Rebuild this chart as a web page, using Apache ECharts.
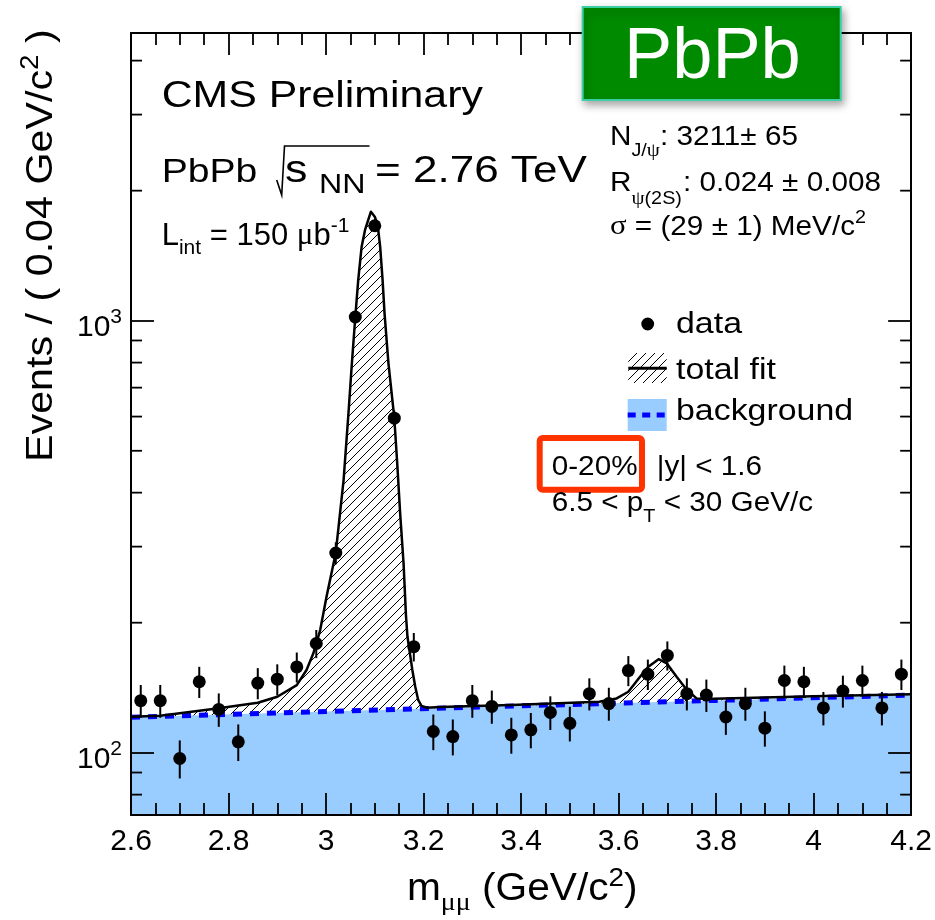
<!DOCTYPE html>
<html>
<head>
<meta charset="utf-8">
<script src="https://cdn.jsdelivr.net/npm/echarts@6/dist/echarts.min.js"></script>
<style>
  html, body { margin: 0; padding: 0; background: #fff; }
  #chart { width: 935px; height: 920px; }
</style>
</head>
<body>
<div id="chart"></div>
<script>
// ---- dimuon invariant-mass spectrum, 0.04 GeV/c^2 bins ----
const massBins = [2.62, 2.66, 2.70, 2.74, 2.78, 2.82, 2.86, 2.90, 2.94, 2.98,
                  3.02, 3.06, 3.10, 3.14, 3.18, 3.22, 3.26, 3.30, 3.34, 3.38,
                  3.42, 3.46, 3.50, 3.54, 3.58, 3.62, 3.66, 3.70, 3.74, 3.78,
                  3.82, 3.86, 3.90, 3.94, 3.98, 4.02, 4.06, 4.10, 4.14, 4.18];
const counts = [132, 132, 97, 146, 126, 106, 145, 148, 158, 179,
                290, 1020, 1659, 595, 176, 112, 109, 132, 128, 110,
                113, 124, 117, 137, 130, 155, 152, 168, 137, 136,
                121, 130, 114, 147, 146, 127, 139, 147, 127, 152];
const countErrors = [11.5, 11.5, 9.8, 12.1, 11.2, 10.3, 12.0, 12.2, 12.6, 13.4,
                     17.0, 31.9, 40.7, 24.4, 13.3, 10.6, 10.4, 11.5, 11.3, 10.5,
                     10.6, 11.1, 10.8, 11.7, 11.4, 12.4, 12.3, 13.0, 11.7, 11.7,
                     11.0, 11.4, 10.7, 12.1, 12.1, 11.3, 11.8, 12.1, 11.3, 12.3];

// total fit curve (signal + background)
const fitMass = [2.60, 2.66, 2.78, 2.86, 2.90, 2.94, 2.96, 2.974, 2.988, 3.001,
                 3.02, 3.036, 3.046, 3.053, 3.06, 3.066, 3.073, 3.08, 3.092, 3.10,
                 3.106, 3.111, 3.116, 3.12, 3.128, 3.14, 3.146, 3.152, 3.159, 3.164,
                 3.167, 3.172, 3.177, 3.183, 3.189, 3.196, 3.207, 3.234, 3.38, 3.56,
                 3.596, 3.62, 3.644, 3.661, 3.682, 3.699, 3.719, 3.74, 3.76, 3.795,
                 4.0, 4.2];
const fitCounts = [121.2, 121.8, 126.7, 130.5, 134.8, 143.4, 155.4, 169.9, 192.3, 229.7,
                   290.4, 427.8, 610.6, 796.9, 1020, 1242, 1484, 1622, 1788, 1741,
                   1659, 1484, 1242, 1040, 797, 595.5, 467.7, 358.3, 274.4, 207.2,
                   185.6, 169.9, 155.4, 142.2, 132.5, 128.3, 127.1, 127.6, 129.0, 131.3,
                   133.6, 138.4, 149.9, 158.1, 164.7, 161.0, 149.9, 139.7, 133.6, 133.3,
                   135.2, 136.6];

// background component of the fit
const bgMass = [2.6, 3.0, 3.4, 3.8, 4.2];
const bgCounts = [120.8, 124.6, 128.4, 132.2, 136.0];

// axis ranges and tick values
const X_MIN = 2.6, X_MAX = 4.2, X_STEP = 0.2;
const Y_MIN = 71.77, Y_MAX = 4634;
const yMinorTicks = [80, 90, 200, 300, 400, 500, 600, 700, 800, 900, 2000, 3000, 4000];

// ---- helpers ----
const SANS = '"Liberation Sans", Arial, Helvetica, sans-serif';
const SERIF = '"Liberation Serif", "Times New Roman", serif';
const MID = 0.35;   // canvas "middle" baseline sits this far (in em) above the alphabetic baseline
const measureCtx = document.createElement('canvas').getContext('2d');
function textWidth(t, fs, fam) {
  measureCtx.font = fs + 'px ' + fam;
  return measureCtx.measureText(t).width;
}
// a run of text pieces (for sub/superscripts) sharing one baseline
function textRun(x, y, sx, parts, opts) {
  opts = opts || {};
  const z = 100;
  let cx = 0;
  const children = parts.map(p => {
    const fam = p.serif ? SERIF : SANS;
    if (p.at != null) cx = (p.at - x) / sx;
    const el = {
      type: 'text', z: z, x: cx, y: (p.dy || 0) - MID * p.fs,
      style: { text: p.t, font: p.fs + 'px ' + fam, fill: opts.fill || '#000',
               align: 'left', verticalAlign: 'middle' }
    };
    cx += textWidth(p.t, p.fs, fam);
    return el;
  });
  return { type: 'group', z: z, x: x, y: y, scaleX: sx, rotation: opts.rotation || 0, children: children };
}
function hatchCanvas() {
  const s = 9;
  const c = document.createElement('canvas');
  c.width = s; c.height = s;
  const g = c.getContext('2d');
  g.strokeStyle = '#000';
  g.lineWidth = 1;
  g.beginPath();
  g.moveTo(0, s); g.lineTo(s, 0);
  g.moveTo(-1, 1); g.lineTo(1, -1);
  g.moveTo(s - 1, s + 1); g.lineTo(s + 1, s - 1);
  g.stroke();
  return c;
}
const hatchFill = { image: hatchCanvas(), repeat: 'repeat' };

const pts = (xs, ys) => xs.map((m, i) => [m, ys[i]]);
const dataPts = pts(massBins, counts);
const errPts = massBins.map((m, i) => [m, counts[i], countErrors[i]]);
const fitPts = pts(fitMass, fitCounts);
const bgPts = pts(bgMass, bgCounts);

const chart = echarts.init(document.getElementById('chart'), null, { renderer: 'canvas' });

const axisLineStyle = { lineStyle: { color: '#000', width: 2 } };
const tickStyle = { lineStyle: { color: '#000', width: 1.8 } };

function xAxisCfg(pos, labels) {
  return {
    type: 'value', position: pos, min: X_MIN, max: X_MAX, interval: X_STEP, z: 10,
    axisLine: Object.assign({ show: true, onZero: false }, axisLineStyle),
    axisTick: Object.assign({ show: true, inside: true, length: 22 }, tickStyle),
    minorTick: Object.assign({ show: true, splitNumber: 4, length: 12 }, tickStyle),
    splitLine: { show: false }, minorSplitLine: { show: false },
    axisLabel: { show: labels, margin: 12, color: '#000', fontSize: 30, fontFamily: SANS }
  };
}
function yAxisCfg(pos, labels) {
  return {
    type: 'log', logBase: 10, position: pos, min: Y_MIN, max: Y_MAX, z: 10,
    axisLine: Object.assign({ show: true, onZero: false }, axisLineStyle),
    axisTick: Object.assign({ show: true, inside: true, length: 23 }, tickStyle),
    splitLine: { show: false },
    axisLabel: {
      show: labels, margin: 9, padding: [8, 0, 0, 0],
      formatter: v => {
        const e = Math.round(Math.log10(v));
        if (Math.abs(Math.log10(v) - e) > 1e-6) return '';
        return '{b|10}{s|' + e + '}';
      },
      rich: {
        b: { fontSize: 30, fontFamily: SANS, color: '#000', lineHeight: 36, verticalAlign: 'bottom' },
        s: { fontSize: 21, fontFamily: SANS, color: '#000', lineHeight: 21, verticalAlign: 'top' }
      }
    }
  };
}

const graphics = [
  textRun(161.7, 109.3, 1.157, [{ t: 'CMS Preliminary', fs: 37 }]),
  textRun(161.7, 185, 1.15, [
    { t: 'PbPb', fs: 34 },
    { t: 's', fs: 39, at: 285 },
    { t: 'NN', fs: 28, at: 319, dy: 10 }
  ]),
  textRun(375, 185, 1.19, [{ t: '= 2.76 TeV', fs: 37 }]),
  { type: 'polyline', z: 100, shape: { points: [[276.7, 180], [281.7, 195], [284.5, 146], [369.5, 146]] },
    style: { stroke: '#000', lineWidth: 1.6, fill: null } },
  textRun(161.7, 247, 1.0, [
    { t: 'L', fs: 31 }, { t: 'int', fs: 21, dy: 9 }, { t: ' = 150 ', fs: 31 },
    { t: 'μ', fs: 31, serif: true }, { t: 'b', fs: 31 }, { t: '-1', fs: 21, dy: -13 }
  ]),
  // fit results
  textRun(610, 146.7, 1.1, [
    { t: 'N', fs: 27 }, { t: 'J/', fs: 18, dy: 11 }, { t: 'ψ', fs: 19, dy: 11, serif: true },
    { t: ': 3211± 65', fs: 27, at: 660 }
  ]),
  textRun(610, 193.3, 1.1, [
    { t: 'R', fs: 27 }, { t: 'ψ', fs: 19, dy: 12, serif: true }, { t: '(2S)', fs: 18, dy: 12 },
    { t: ': 0.024 ± 0.008', fs: 27, at: 683 }
  ]),
  textRun(610, 236.7, 1.1, [
    { t: 'σ', fs: 28, serif: true }, { t: ' = (29 ± 1) MeV/c', fs: 27 }, { t: '2', fs: 18, dy: -12 }
  ]),
  // legend
  { type: 'circle', z: 100, shape: { cx: 647.7, cy: 324, r: 6.4 }, style: { fill: '#000' } },
  textRun(676, 335, 1.13, [{ t: 'data', fs: 30 }]),
  { type: 'rect', z: 100, shape: { x: 628.3, y: 353, width: 38.4, height: 30 }, style: { fill: hatchFill } },
  { type: 'line', z: 100, shape: { x1: 628.3, y1: 368.3, x2: 666.7, y2: 368.3 }, style: { stroke: '#000', lineWidth: 3 } },
  textRun(676, 381.7, 1.13, [{ t: 'total fit', fs: 30 }]),
  { type: 'rect', z: 100, shape: { x: 627.7, y: 399, width: 39, height: 32 }, style: { fill: '#99ccff' } },
  { type: 'line', z: 100, shape: { x1: 627.7, y1: 415, x2: 666.7, y2: 415 },
    style: { stroke: '#0000ff', lineWidth: 5, lineDash: [8, 6.5] } },
  textRun(676, 422.7, 1.13, [{ t: 'background', fs: 30 }]),
  // selection
  { type: 'rect', z: 100, shape: { x: 539.7, y: 438, width: 102.3, height: 51.7, r: 3 },
    style: { fill: null, stroke: '#ff3300', lineWidth: 6 } },
  textRun(551.7, 476.7, 1.1, [{ t: '0-20%', fs: 27 }, { t: '|y| < 1.6', fs: 27, at: 656.7 }]),
  textRun(551.7, 513.3, 1.1, [{ t: '6.5 < p', fs: 27 }, { t: 'T', fs: 18, dy: 10 }, { t: ' < 30 GeV/c', fs: 27 }]),
  // collision-system badge
  { type: 'rect', z: 100, shape: { x: 582.7, y: 7, width: 258, height: 93 },
    style: { fill: '#008a00', stroke: '#3ccfa6', lineWidth: 2,
             shadowBlur: 8, shadowOffsetX: 2, shadowOffsetY: 4, shadowColor: 'rgba(0,0,0,0.35)' } },
  textRun(624, 83.3, 0.99, [{ t: 'PbPb', fs: 73 }], { fill: '#fff' }),
  // axis titles
  textRun(407, 903, 1.07, [
    { t: 'm', fs: 38 }, { t: 'μμ', fs: 26, dy: 9, serif: true }, { t: ' (GeV/c', fs: 38 },
    { t: '2', fs: 26, dy: -15 }, { t: ')', fs: 38 }
  ]),
  textRun(55, 462, 1.115, [
    { t: 'Events / ( 0.04 GeV/c', fs: 37 }, { t: '2', fs: 25, dy: -15 }, { t: ' )', fs: 37 }
  ], { rotation: Math.PI / 2 })
];

const option = {
  animation: false,
  backgroundColor: '#fff',
  grid: { left: 131, top: 33, width: 781, height: 782, containLabel: false },
  xAxis: [xAxisCfg('bottom', true), xAxisCfg('top', false)],
  yAxis: [yAxisCfg('left', true), yAxisCfg('right', false)],
  series: [
    { // background area
      type: 'line', data: bgPts, symbol: 'none', silent: true, z: 1,
      lineStyle: { width: 0 }, areaStyle: { color: '#99ccff', opacity: 1, origin: 'start' }
    },
    { // hatched signal region between total fit and background
      type: 'custom', z: 2, silent: true, data: [[X_MIN, Y_MIN]],
      renderItem: (params, api) => {
        const upper = fitPts.map(p => api.coord(p));
        const lower = bgPts.slice().reverse().map(p => api.coord(p));
        return { type: 'polygon', shape: { points: upper.concat(lower) },
                 style: { fill: hatchFill, stroke: null } };
      }
    },
    { // background curve
      type: 'line', data: bgPts, symbol: 'none', silent: true, z: 3,
      lineStyle: { color: '#0000ff', width: 5, type: [9, 8], cap: 'butt' }
    },
    { // total fit
      type: 'line', data: fitPts, symbol: 'none', silent: true, z: 4,
      lineStyle: { color: '#000', width: 2.5, join: 'round' }
    },
    { // statistical error bars
      type: 'custom', z: 5, silent: true, data: errPts, encode: { x: 0, y: 1 },
      renderItem: (params, api) => {
        const m = api.value(0), v = api.value(1), e = api.value(2);
        const a = api.coord([m, v - e]), b = api.coord([m, v + e]);
        return { type: 'line', shape: { x1: a[0], y1: a[1], x2: b[0], y2: b[1] },
                 style: { stroke: '#000', lineWidth: 2 } };
      }
    },
    { // data points
      type: 'scatter', data: dataPts, symbol: 'circle', symbolSize: 13, z: 6, silent: true,
      itemStyle: { color: '#000', opacity: 1 }
    },
    { // minor ticks of the logarithmic y axis, left and right frame
      type: 'custom', z: 10, silent: true, data: yMinorTicks.map(v => [X_MIN, v]), encode: { x: 0, y: 1 },
      renderItem: (params, api) => {
        const v = api.value(1);
        const l = api.coord([X_MIN, v]), r = api.coord([X_MAX, v]);
        return { type: 'group', children: [
          { type: 'line', shape: { x1: l[0], y1: l[1], x2: l[0] + 11, y2: l[1] }, style: { stroke: '#000', lineWidth: 1.8 } },
          { type: 'line', shape: { x1: r[0] - 11, y1: r[1], x2: r[0], y2: r[1] }, style: { stroke: '#000', lineWidth: 1.8 } }
        ] };
      }
    }
  ],
  graphic: { elements: graphics }
};
chart.setOption(option);
</script>
</body>
</html>
